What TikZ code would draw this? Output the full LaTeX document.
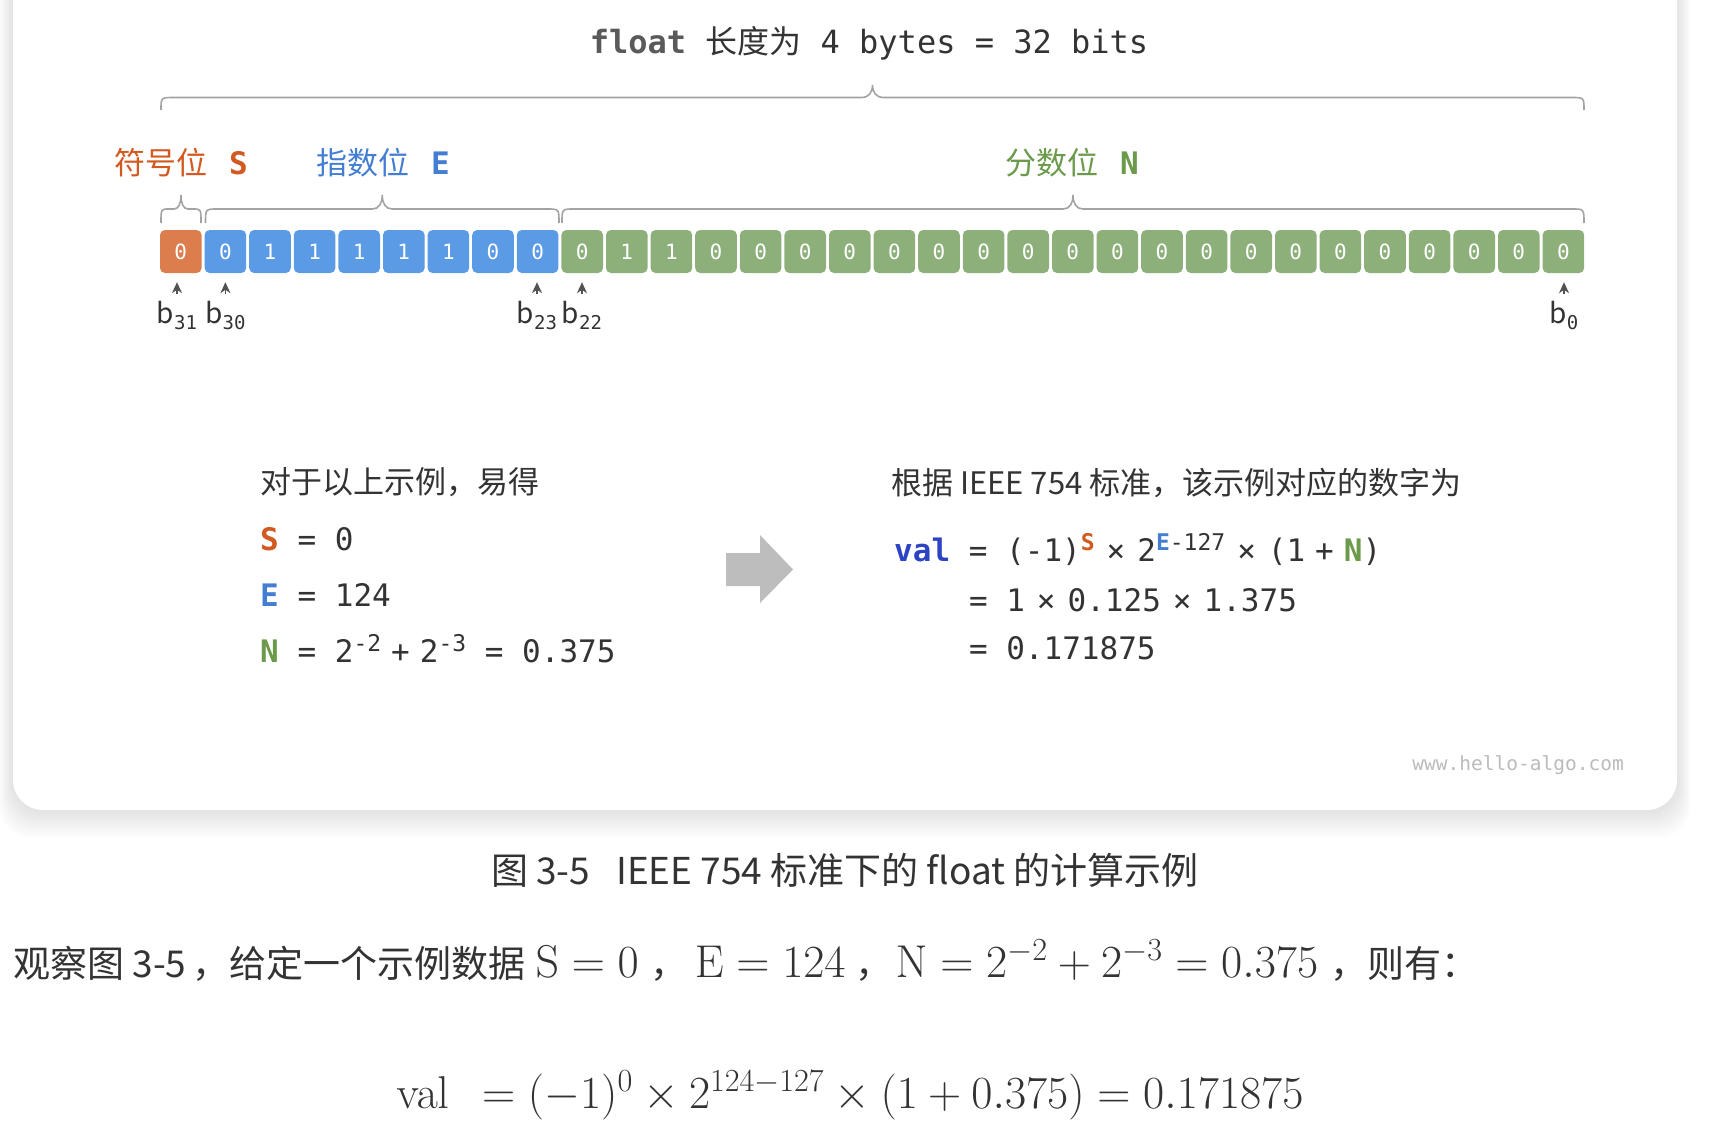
\RequirePackage{fix-cm}
\documentclass[tikz,border=0pt]{standalone}
\usepackage[no-math]{fontspec}
\setmainfont{Noto Sans CJK SC}
\newfontfamily\cjk{Noto Sans CJK SC}
\newfontfamily\mono{DejaVu Sans Mono}
\usetikzlibrary{arrows.meta,positioning,calc}
\definecolor{HASign}{HTML}{DB7D4D}
\definecolor{HAExp}{HTML}{5B9BE5}
\definecolor{HAFrac}{HTML}{8DB07B}
\definecolor{HASignText}{HTML}{D2591F}
\definecolor{HAExpText}{HTML}{437ED3}
\definecolor{HAFracText}{HTML}{6A9A4A}
\definecolor{HAVal}{HTML}{2C44C4}
\definecolor{HAInk}{HTML}{333333}
\definecolor{HAKey}{HTML}{5A5A5A}
\definecolor{HABrace}{HTML}{A3A3A3}
\definecolor{HAArrow}{HTML}{BDBDBD}
\definecolor{HAMark}{HTML}{BBBBBB}
\newcommand\hi[1]{\raisebox{11pt}{\fontsize{23}{23}\selectfont #1}}
\newcommand\lo[1]{\raisebox{-6pt}{\mono\fontsize{19}{19}\selectfont #1}}
\newcommand\tms{\hspace{12pt}×\hspace{12pt}}
\newcommand\pls{\hspace{10pt}+\hspace{10pt}}
\newcommand\mth[1]{{\fontsize{46}{52}\selectfont$#1$}}
% x1, x2, y of the ends, height, corner width, tip half width
\newcommand\bitbrace[6]{%
  \draw[brace] (#1,#3) .. controls (#1,#3-#4) .. (#1+#5,#3-#4)
    -- ({(#1+#2)/2-#6},#3-#4) .. controls ({(#1+#2)/2-#6/3},#3-#4) and ({(#1+#2)/2},{#3-1.4*#4}) .. ({(#1+#2)/2},#3-2*#4)
    .. controls ({(#1+#2)/2},{#3-1.4*#4}) and ({(#1+#2)/2+#6/3},#3-#4) .. ({(#1+#2)/2+#6},#3-#4)
    -- (#2-#5,#3-#4) .. controls (#2,#3-#4) .. (#2,#3);}
\tikzset{
  bit/.style={rounded corners=5pt,minimum width=41.6pt,minimum height=43pt,inner sep=0pt,
              text=white,font=\mono\fontsize{21}{21}\selectfont},
  signbit/.style={bit,fill=HASign},
  expbit/.style={bit,fill=HAExp},
  fracbit/.style={bit,fill=HAFrac},
  brace/.style={draw=HABrace,line width=1.6pt},
  ptr/.style={-{Stealth[length=11pt,width=10pt,inset=3.5pt]},HAInk!85,line width=1.5pt,
              shorten <=7pt,shorten >=9pt},
  bitlabel/.style={text=HAInk,anchor=north,inner sep=0pt,font=\fontsize{28}{28}\selectfont},
  head/.style={text=HAInk,anchor=base,inner sep=0pt,font=\mono\fontsize{32}{32}\selectfont},
  field/.style={anchor=base west,inner sep=0pt,font=\fontsize{31}{31}\selectfont},
  note/.style={text=HAInk,anchor=base west,inner sep=0pt,font=\fontsize{31}{31}\selectfont},
  code/.style={text=HAInk,anchor=base west,inner sep=0pt,font=\mono\fontsize{31}{31}\selectfont},
  site/.style={text=HAMark,anchor=base east,inner sep=0pt,font=\mono\fontsize{19.5}{20}\selectfont},
  caption/.style={text=HAInk,anchor=base,inner sep=0pt,font=\fontsize{37}{37}\selectfont},
  para/.style={text=HAInk,anchor=base west,inner sep=0pt,font=\fontsize{37}{37}\selectfont},
}

\begin{document}
\begin{tikzpicture}[x=1pt,y=-1pt]
  \useasboundingbox (0,0) rectangle (1710,1132);
  \fill[white] (0,0) rectangle (1710,1132);

  % card and its soft shadow
  \foreach \s in {1,...,14}
    \fill[black,opacity=0.009,rounded corners=32pt] (13-\s,-60) rectangle (1677+\s,810+2*\s);
  \fill[white,rounded corners=30pt] (13,-60) rectangle (1677,810);

  \node[head] (title) at (869,54)
    {{\color{HAKey}\bfseries float} {\cjk 长度为} 4 bytes = 32 bits};
  \bitbrace{161}{1584}{110}{12.5}{13}{11}

  \node[field,text=HASignText] (signlbl) at (114,174) {符号位\hspace{22pt}{\mono\bfseries S}};
  \node[field,text=HAExpText] (explbl) at (316,174) {指数位\hspace{22pt}{\mono\bfseries E}};
  \node[field,text=HAFracText] (fraclbl) at (1005,174) {分数位\hspace{22pt}{\mono\bfseries N}};

  \bitbrace{161}{201}{223}{14}{8}{7}
  \bitbrace{205.5}{559}{223}{14}{12}{10}
  \bitbrace{562}{1584}{223}{14}{12}{10}

  % the 32 bits, b31 on the left
  \node[signbit] (bit31) at (180.8,251.5) {0};
  \foreach \v [count=\i] in {0,1,1,1,1,1,0,0} {
    \pgfmathtruncatemacro\k{31-\i}
    \node[expbit] (bit\k) at (180.8+44.6*\i,251.5) {\v};
  }
  \foreach \v [count=\i from 9] in {0,1,1,0,0,0,0,0,0,0,0,0,0,0,0,0,0,0,0,0,0,0,0} {
    \pgfmathtruncatemacro\k{31-\i}
    \node[fracbit] (bit\k) at (180.8+44.6*\i,251.5) {\v};
  }

  \node[bitlabel] (lb31) at (177,301) {b\lo{31}};
  \node[bitlabel] (lb30) at (225.4,301) {b\lo{30}};
  \node[bitlabel] (lb23) at (537,301) {b\lo{23}};
  \node[bitlabel] (lb22) at (582,301) {b\lo{22}};
  \node[bitlabel] (lb0) at (1564,301) {b\lo{0}};
  \foreach \n in {31,30,23,22,0}
    \draw[ptr] (lb\n.north) -- (lb\n.north |- bit\n.south);

  % what the bits give
  \node[note] (given) at (260,493) {对于以上示例，易得};
  \node[code] (sline) at (260,550) {{\bfseries\color{HASignText}S} = 0};
  \node[code] (eline) at (260,606) {{\bfseries\color{HAExpText}E} = 124};
  \node[code] (nline) at (260,662)
    {{\bfseries\color{HAFracText}N} = 2\hi{-2}\pls 2\hi{-3} = 0.375};

  \fill[HAArrow] (726,553) -- (760,553) -- (760,535) -- (793,569.5) -- (760,603)
    -- (760,586) -- (726,586) -- cycle;

  \node[note] (rule) at (891,494) {根据 IEEE 754 标准，该示例对应的数字为};
  \node[code] (val1) at (894,561)
    {{\bfseries\color{HAVal}val} = (-1)\hi{\bfseries\color{HASignText}S}\tms
     2\hi{{\bfseries\color{HAExpText}E}-127}\tms (1\pls{\bfseries\color{HAFracText}N})};
  \node[code] (val2) at (968.8,611) {= 1\tms 0.125\tms 1.375};
  \node[code] (val3) at (968.8,659) {= 0.171875};

  \node[site] (www) at (1624,770) {www.hello-algo.com};

  % text below the card
  \node[caption] (cap) at (845,884) {图 3-5\hspace{26pt}IEEE 754 标准下的 float 的计算示例};
  \node[para] (obs) at (13,977)
    {观察图 3-5\,，给定一个示例数据\hspace{10pt}\mth{\mathrm{S}=0}\hspace{12pt}，\hspace{7pt}%
     \mth{\mathrm{E}=124}\hspace{10pt}，\hspace{3pt}\mth{\mathrm{N}=2^{-2}+2^{-3}=0.375}\hspace{12pt}，则有：};
  \node[anchor=base,inner sep=0pt,text=HAInk] (valfull) at (850,1108)
    {\fontsize{46}{52}\selectfont$\mathrm{val}\;\,=(-1)^{0}\times 2^{124-127}\times(1+0.375)=0.171875$};
\end{tikzpicture}
\end{document}
